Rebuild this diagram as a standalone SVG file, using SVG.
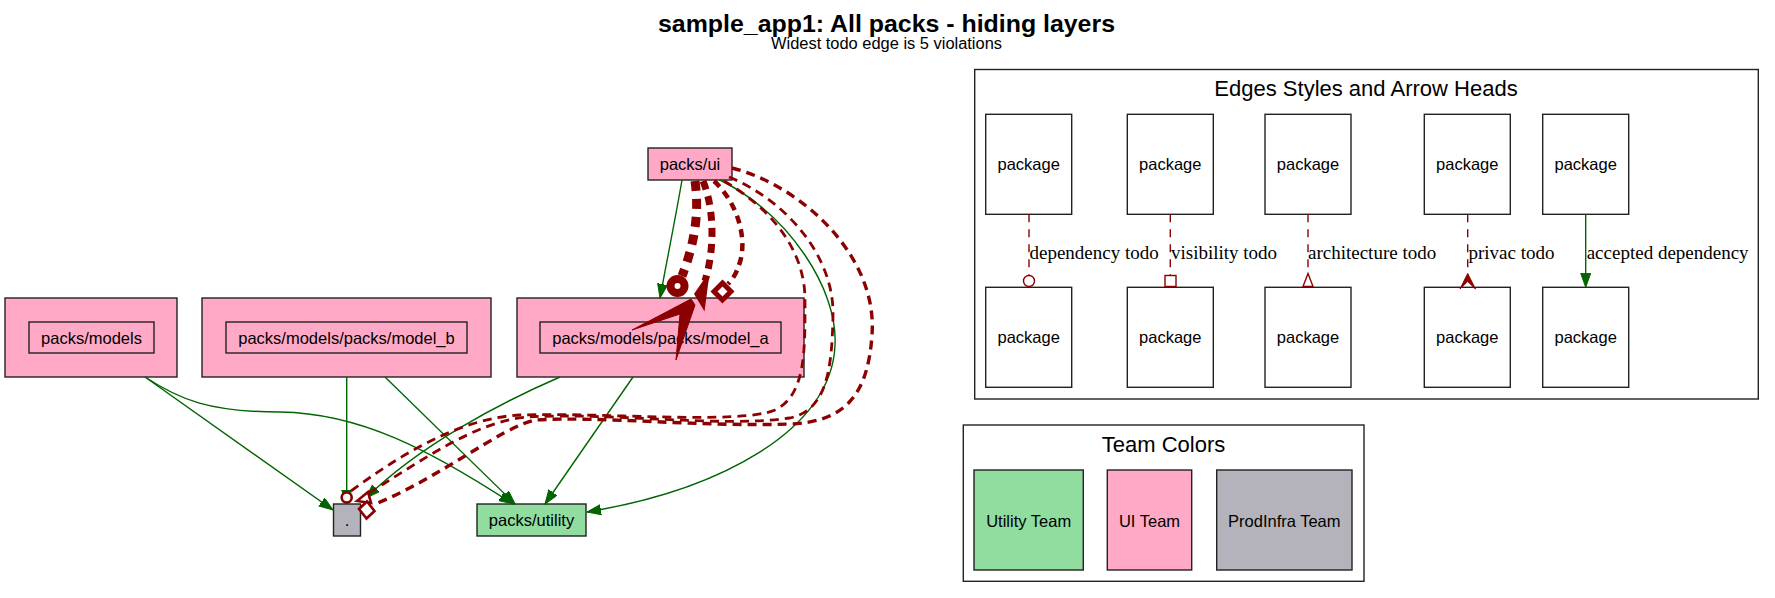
<svg xmlns="http://www.w3.org/2000/svg" width="1775" height="598" viewBox="0 0 1775 598">
  <style>
    .sans { font-family: "Liberation Sans", Arial, sans-serif; fill: #000; }
    .serif { font-family: "Liberation Serif", "Times New Roman", serif; fill: #000; font-size: 19px; }
    .lbl { font-size: 16.5px; text-anchor: middle; }
    .cl { font-size: 22px; text-anchor: middle; }
    .box { stroke: #222; stroke-width: 1.4; }
    .ui { fill: #ffa9c6; }
    .util { fill: #91dc9f; }
    .infra { fill: #b4b3bc; }
    .plain { fill: #fff; }
    .frame { fill: none; stroke: #222; stroke-width: 1.4; }
    .ok { fill: none; stroke: #006400; stroke-width: 1.4; }
    .todo { fill: none; stroke: #8b0000; stroke-width: 2.8; stroke-dasharray: 9 6; }
    .todo-thin { fill: none; stroke: #8b0000; stroke-width: 1.4; stroke-dasharray: 8 7; }
    .head-open { fill: #fff; stroke: #8b0000; }
    .head-fill { fill: #8b0000; stroke: #8b0000; }
  </style>
  <defs>
    <marker id="ok-arrow" markerUnits="userSpaceOnUse" markerWidth="15" markerHeight="11" refX="14" refY="5" orient="auto">
      <path d="M0,0 L14,5 L0,10 Z" fill="#006400" stroke="#006400" stroke-width="1"/>
    </marker>
  </defs>

  <rect width="1775" height="598" fill="#fff"/>

  <g id="title">
    <text class="sans" x="886.5" y="32" font-size="23" font-weight="bold" text-anchor="middle" textLength="457" lengthAdjust="spacingAndGlyphs">sample_app1: All packs - hiding layers</text>
    <text class="sans" x="886.5" y="48.5" font-size="16" text-anchor="middle" textLength="231" lengthAdjust="spacingAndGlyphs">Widest todo edge is 5 violations</text>
  </g>

  <!-- package nodes -->
  <g id="node-packs-models">
    <rect class="box ui" x="5" y="298" width="172" height="79"/>
    <rect class="box ui" x="29" y="322" width="125" height="31"/>
    <text class="sans lbl" x="91.5" y="343.5">packs/models</text>
  </g>
  <g id="node-model-b">
    <rect class="box ui" x="202" y="298" width="289" height="79"/>
    <rect class="box ui" x="226" y="322" width="241" height="31"/>
    <text class="sans lbl" x="346.5" y="343.5">packs/models/packs/model_b</text>
  </g>
  <g id="node-model-a">
    <rect class="box ui" x="517" y="298" width="287" height="79"/>
    <rect class="box ui" x="540" y="322" width="241" height="31"/>
    <text class="sans lbl" x="660.5" y="343.5">packs/models/packs/model_a</text>
  </g>
  <g id="node-packs-ui">
    <rect class="box ui" x="648" y="148" width="84" height="32"/>
    <text class="sans lbl" x="690" y="170">packs/ui</text>
  </g>
  <g id="node-root">
    <rect class="box infra" x="333.5" y="504" width="27" height="32"/>
    <text class="sans lbl" x="347" y="526">.</text>
  </g>
  <g id="node-packs-utility">
    <rect class="box util" x="477" y="504" width="109" height="32"/>
    <text class="sans lbl" x="531.5" y="526">packs/utility</text>
  </g>

  <!-- dependencies between packages -->
  <g id="connectors">
    <path class="ok" d="M145,377 L333,510" marker-end="url(#ok-arrow)"/>
    <path class="ok" d="M145,377 C180,400 210,412 280,412 C360,413 430,450 513,504" marker-end="url(#ok-arrow)"/>
    <path class="ok" d="M346.7,377 L346.7,504" marker-end="url(#ok-arrow)"/>
    <path class="ok" d="M385,377 L515,504" marker-end="url(#ok-arrow)"/>
    <path class="ok" d="M560,377 C500,403 420,445 366,498" marker-end="url(#ok-arrow)"/>
    <path class="ok" d="M633,377 L545,504" marker-end="url(#ok-arrow)"/>
    <path class="ok" d="M682,180 C676,215 667,260 660,298" marker-end="url(#ok-arrow)"/>
    <path class="ok" d="M720,180 C790,215 838,290 835,345 C832,430 720,490 587,512" marker-end="url(#ok-arrow)"/>

    <!-- todo edges from packs/ui to the root package -->
    <path class="todo" d="M724,181 C765,205 805,245 805,300 C805,350 806,395 775,410 C740,425 600,412 520,415 C460,418 400,455 351,491"/>
    <path class="todo" d="M729,177 C785,200 834,255 833,315 C832,375 825,410 790,418 C720,428 610,412 528,417 C475,421 420,462 364,496"/>
    <path class="todo" d="M732,168 C800,185 878,255 872,335 C868,395 845,422 790,424 C700,427 600,416 535,420 C500,428 440,478 373,505" style="stroke-width:3.4"/>
    <circle class="head-open" cx="346.7" cy="497.5" r="5" stroke-width="2.6"/>
    <polygon class="head-open" points="357,501 368,492 371,503" stroke-width="2.6"/>
    <polygon class="head-open" points="359,509 367,501.5 374.5,511 366.5,518.5" stroke-width="2.6"/>

    <!-- heavy todo edges from packs/ui to model_a -->
    <path class="todo" d="M695,181 C699,210 696,240 682,276" style="stroke-width:9;stroke-dasharray:10 8"/>
    <path class="todo" d="M703,181 C713,205 716,245 705,281" style="stroke-width:7;stroke-dasharray:9 7"/>
    <path class="todo" d="M714,181 C735,200 748,235 740,262 C736,275 732,280 728,284" style="stroke-width:4.5;stroke-dasharray:8 6"/>
    <circle class="head-open" cx="677.5" cy="286" r="7" stroke-width="8"/>
    <polygon class="head-fill" points="697,294 706,281 703,304" stroke-width="5" stroke-linejoin="miter"/>
    <polygon class="head-open" points="714,291.5 722.5,283 731,291.5 722.5,300" stroke-width="5"/>
    <polygon class="head-fill" points="691,299 632,330 680,314 676,360 695,305" stroke-width="1"/>
  </g>

  <!-- legend: edge styles -->
  <g id="legend-edges">
    <rect class="frame" x="974.7" y="69.5" width="783.6" height="329.5"/>
    <text class="sans cl" x="1366" y="95.5">Edges Styles and Arrow Heads</text>

    <g id="legend-dependency">
      <rect class="box plain" x="985.7" y="114.3" width="86" height="100"/>
      <text class="sans lbl" x="1028.7" y="170">package</text>
      <rect class="box plain" x="985.7" y="287.3" width="86" height="100"/>
      <text class="sans lbl" x="1028.7" y="343">package</text>
      <path class="todo-thin" d="M1029,214.3 L1029,275"/>
      <circle class="head-open" cx="1029" cy="281" r="5.5" stroke-width="1.4"/>
      <text class="serif" x="1029.5" y="258.5">dependency todo</text>
    </g>
    <g id="legend-visibility">
      <rect class="box plain" x="1127.3" y="114.3" width="86" height="100"/>
      <text class="sans lbl" x="1170.3" y="170">package</text>
      <rect class="box plain" x="1127.3" y="287.3" width="86" height="100"/>
      <text class="sans lbl" x="1170.3" y="343">package</text>
      <path class="todo-thin" d="M1170.3,214.3 L1170.3,275.5"/>
      <rect class="head-open" x="1165" y="275.5" width="11" height="11" stroke-width="1.4"/>
      <text class="serif" x="1171" y="258.5">visibility todo</text>
    </g>
    <g id="legend-architecture">
      <rect class="box plain" x="1265" y="114.3" width="86" height="100"/>
      <text class="sans lbl" x="1308" y="170">package</text>
      <rect class="box plain" x="1265" y="287.3" width="86" height="100"/>
      <text class="sans lbl" x="1308" y="343">package</text>
      <path class="todo-thin" d="M1308,214.3 L1308,273.5"/>
      <polygon class="head-open" points="1308,273.5 1313,286.5 1303,286.5" stroke-width="1.4"/>
      <text class="serif" x="1308" y="258.5">architecture todo</text>
    </g>
    <g id="legend-privacy">
      <rect class="box plain" x="1424.3" y="114.3" width="86" height="100"/>
      <text class="sans lbl" x="1467.3" y="170">package</text>
      <rect class="box plain" x="1424.3" y="287.3" width="86" height="100"/>
      <text class="sans lbl" x="1467.3" y="343">package</text>
      <path class="todo-thin" d="M1467.7,214.3 L1467.7,275"/>
      <polygon class="head-fill" points="1467.7,273.5 1475.5,289 1467.7,281.5 1460,289" stroke-width="1"/>
      <text class="serif" x="1468.5" y="258.5">privac todo</text>
    </g>
    <g id="legend-accepted">
      <rect class="box plain" x="1542.7" y="114.3" width="86" height="100"/>
      <text class="sans lbl" x="1585.7" y="170">package</text>
      <rect class="box plain" x="1542.7" y="287.3" width="86" height="100"/>
      <text class="sans lbl" x="1585.7" y="343">package</text>
      <path class="ok" d="M1585.7,214.3 L1585.7,287.3" marker-end="url(#ok-arrow)"/>
      <text class="serif" x="1586.7" y="258.5">accepted dependency</text>
    </g>
  </g>

  <!-- legend: team colours -->
  <g id="legend-teams">
    <rect class="frame" x="963.3" y="425" width="400.7" height="156.3"/>
    <text class="sans cl" x="1163.5" y="451.5">Team Colors</text>
    <g id="team-utility">
      <rect class="box util" x="974" y="470" width="109.3" height="100"/>
      <text class="sans lbl" x="1028.7" y="526.5">Utility Team</text>
    </g>
    <g id="team-ui">
      <rect class="box ui" x="1107.3" y="470" width="84.4" height="100"/>
      <text class="sans lbl" x="1149.5" y="526.5">UI Team</text>
    </g>
    <g id="team-prodinfra">
      <rect class="box infra" x="1216.7" y="470" width="135.3" height="100"/>
      <text class="sans lbl" x="1284.3" y="526.5">ProdInfra Team</text>
    </g>
  </g>
</svg>
